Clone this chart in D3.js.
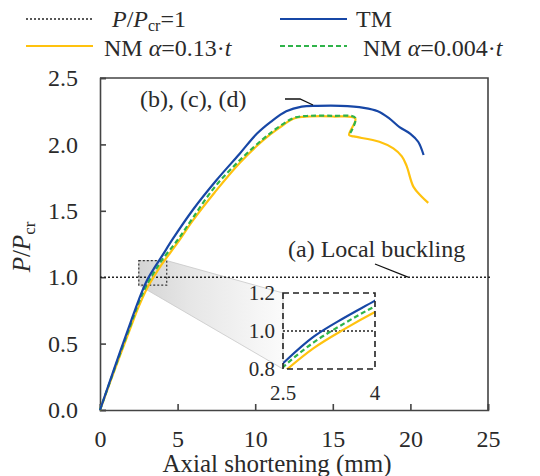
<!DOCTYPE html>
<html>
<head>
<meta charset="utf-8">
<script src="https://cdn.jsdelivr.net/npm/d3@7"></script>
<style>
  body { margin: 0; background: #fff; }
  text { font-family: "Liberation Serif", "Times New Roman", serif; fill: #2a2a2a; }
</style>
</head>
<body>
<svg id="chart" width="540" height="476"></svg>
<script>
var width = 540;
var height = 476;

// axial shortening (mm) / P/Pcr
var tmShort = [0, 1, 2, 2.5, 3.0, 3.5, 4, 4.7, 6, 7.5, 9, 10.1, 11, 12, 13, 14, 15.5, 17, 17.9, 18.6, 19.3, 20, 20.5, 20.85];
var tmLoad = [0, 0.34, 0.67, 0.83, 0.97, 1.07, 1.16, 1.29, 1.51, 1.73, 1.93, 2.08, 2.17, 2.25, 2.285, 2.29, 2.29, 2.275, 2.25, 2.2, 2.13, 2.08, 2.02, 1.92];

var nm13Short = [0, 1, 2, 2.5, 3.0, 3.5, 4, 5, 6, 7.4, 9, 10.5, 11.5, 12.5, 13.5, 15, 16.45, 16.05, 16.35, 18.0, 18.9, 19.45, 19.75, 20.2, 20.7, 21.15];
var nm13Load = [0, 0.32, 0.63, 0.78, 0.91, 1.01, 1.1, 1.26, 1.43, 1.64, 1.86, 2.03, 2.12, 2.195, 2.21, 2.21, 2.195, 2.07, 2.06, 2.02, 1.97, 1.91, 1.84, 1.68, 1.61, 1.56];

var nm004Short = [0, 1, 2, 2.5, 3.0, 3.5, 4, 5, 6, 7.4, 9, 10.5, 11.5, 12.5, 13.5, 15, 16.45, 16.05];
var nm004Load = [0, 0.33, 0.65, 0.81, 0.94, 1.04, 1.13, 1.28, 1.45, 1.68, 1.88, 2.04, 2.13, 2.2, 2.215, 2.215, 2.2, 2.07];

var xTicks = [0, 5, 10, 15, 20, 25];
var yTicks = [0, 0.5, 1, 1.5, 2, 2.5];
var insetXTicks = [2.5, 4];
var insetYTicks = [0.8, 1.0, 1.2];
var zoomBoxX = [2.5, 4.3];
var zoomBoxY = [0.94, 1.125];

var blue = "#1747a6";
var yellow = "#ffc20e";
var green = "#2fb34a";

function toPoints(xs, ys) {
  return xs.map(function (d, i) { return [d, ys[i]]; });
}
var series = [
  { name: "nm13", pts: toPoints(nm13Short, nm13Load), color: yellow, dash: null },
  { name: "nm004", pts: toPoints(nm004Short, nm004Load), color: green, dash: "5,3" },
  { name: "tm", pts: toPoints(tmShort, tmLoad), color: blue, dash: null }
];

var svg = d3.select("#chart");

var x = d3.scaleLinear().domain([0, 25]).range([100, 488]);
var y = d3.scaleLinear().domain([0, 2.5]).range([410, 78]);

// inset scales
var xi = d3.scaleLinear().domain([2.5, 4]).range([283, 375]);
var yi = d3.scaleLinear().domain([0.8, 1.2]).range([369, 293]);

var defs = svg.append("defs");
var grad = defs.append("linearGradient").attr("id", "fade")
  .attr("gradientUnits", "userSpaceOnUse")
  .attr("x1", x(zoomBoxX[0])).attr("x2", xi(2.5)).attr("y1", 0).attr("y2", 0);
grad.append("stop").attr("offset", 0).attr("stop-color", "#d4d4d4");
grad.append("stop").attr("offset", 0.35).attr("stop-color", "#e6e6e6");
grad.append("stop").attr("offset", 1).attr("stop-color", "#fbfbfb");

defs.append("clipPath").attr("id", "insetClip").append("rect")
  .attr("x", xi(2.5)).attr("y", yi(1.2))
  .attr("width", xi(4) - xi(2.5)).attr("height", yi(0.8) - yi(1.2));

// zoom wedge (gray fade from the small box to the inset)
var wedge = [
  [x(zoomBoxX[0]), y(zoomBoxY[1])],
  [x(zoomBoxX[1]), y(zoomBoxY[1])],
  [xi(2.5), yi(1.2)],
  [xi(2.5), yi(0.8)],
  [x(zoomBoxX[0]), y(zoomBoxY[0])]
];
svg.append("path")
  .attr("d", d3.line()(wedge) + "Z")
  .attr("fill", "url(#fade)")
  .attr("stroke", "#c8c8c8")
  .attr("stroke-width", 0.8);

// frame
svg.append("path")
  .attr("d", "M" + x(0) + "," + y(2.5) + "H" + x(25) + "V" + y(0))
  .attr("fill", "none").attr("stroke", "#444").attr("stroke-width", 1.6);

var xAxis = svg.append("g").attr("transform", "translate(0," + y(0) + ")")
  .call(d3.axisBottom(x).tickValues(xTicks).tickSize(-6).tickPadding(20).tickFormat(d3.format("d")));
var yAxis = svg.append("g").attr("transform", "translate(" + x(0) + ",0)")
  .call(d3.axisLeft(y).tickValues(yTicks).tickSize(-6).tickPadding(22).tickFormat(d3.format(".1f")));
[xAxis, yAxis].forEach(function (g) {
  g.select(".domain").attr("stroke", "#444").attr("stroke-width", 1.6);
  g.selectAll(".tick line").attr("stroke", "#444").attr("stroke-width", 1.6);
  g.selectAll(".tick text").attr("font-size", 24).attr("fill", "#2a2a2a")
    .style("font-family", "'Liberation Serif', serif");
});

// P/Pcr = 1 line
svg.append("line")
  .attr("x1", x(0)).attr("x2", 490).attr("y1", y(1)).attr("y2", y(1))
  .attr("stroke", "#222").attr("stroke-width", 1.6).attr("stroke-dasharray", "2,2");

// small zoom box
svg.append("rect")
  .attr("x", x(zoomBoxX[0])).attr("y", y(zoomBoxY[1]))
  .attr("width", x(zoomBoxX[1]) - x(zoomBoxX[0]))
  .attr("height", y(zoomBoxY[0]) - y(zoomBoxY[1]))
  .attr("fill", "none").attr("stroke", "#333").attr("stroke-width", 1.2)
  .attr("stroke-dasharray", "2,2");

var line = d3.line().curve(d3.curveCatmullRom.alpha(0.5))
  .x(function (d) { return x(d[0]); })
  .y(function (d) { return y(d[1]); });

series.forEach(function (s) {
  svg.append("path")
    .attr("d", line(s.pts))
    .attr("fill", "none")
    .attr("stroke", s.color)
    .attr("stroke-width", 2.2)
    .attr("stroke-dasharray", s.dash);
});

// inset
var inset = svg.append("g");
inset.append("line")
  .attr("x1", xi(2.5)).attr("x2", xi(4)).attr("y1", yi(1)).attr("y2", yi(1))
  .attr("stroke", "#222").attr("stroke-width", 1.6).attr("stroke-dasharray", "2,2");
var insetLine = d3.line().curve(d3.curveCatmullRom.alpha(0.5))
  .x(function (d) { return xi(d[0]); })
  .y(function (d) { return yi(d[1]); });
var insetCurves = inset.append("g").attr("clip-path", "url(#insetClip)");
series.forEach(function (s) {
  insetCurves.append("path")
    .attr("d", insetLine(s.pts))
    .attr("fill", "none")
    .attr("stroke", s.color)
    .attr("stroke-width", 2.2)
    .attr("stroke-dasharray", s.dash);
});
inset.append("rect")
  .attr("x", xi(2.5)).attr("y", yi(1.2))
  .attr("width", xi(4) - xi(2.5)).attr("height", yi(0.8) - yi(1.2))
  .attr("fill", "none").attr("stroke", "#222").attr("stroke-width", 1.6)
  .attr("stroke-dasharray", "6,4");
inset.selectAll(".iy").data(insetYTicks).enter().append("text")
  .attr("x", xi(2.5) - 8).attr("y", function (d) { return yi(d); })
  .attr("dy", "0.35em").attr("text-anchor", "end").attr("font-size", 21)
  .text(d3.format(".1f"));
inset.selectAll(".ix").data(insetXTicks).enter().append("text")
  .attr("x", function (d) { return xi(d); }).attr("y", 400)
  .attr("text-anchor", "middle").attr("font-size", 21)
  .text(function (d) { return d; });

// annotations
svg.append("text").attr("x", 288).attr("y", 257).attr("font-size", 24).text("(a) Local buckling");
svg.append("line").attr("x1", 375).attr("y1", 264).attr("x2", 408).attr("y2", y(1))
  .attr("stroke", "#111").attr("stroke-width", 1.3);
svg.append("text").attr("x", 140).attr("y", 107).attr("font-size", 24).text("(b), (c), (d)");
svg.append("polyline").attr("points", "285,99 300,99 313,105")
  .attr("fill", "none").attr("stroke", "#111").attr("stroke-width", 1.3);

// axis titles
svg.append("text").attr("x", 277).attr("y", 472).attr("text-anchor", "middle")
  .attr("font-size", 25).text("Axial shortening (mm)");

var yTitle = svg.append("text").attr("transform", "translate(30,247) rotate(-90)")
  .attr("text-anchor", "middle").attr("font-size", 25);
yTitle.append("tspan").attr("font-style", "italic").text("P");
yTitle.append("tspan").text("/");
yTitle.append("tspan").attr("font-style", "italic").text("P");
yTitle.append("tspan").attr("font-size", 17).attr("dy", 5).text("cr");

// legend
var legend = svg.append("g");
var legendRows = [
  { x: 26, y: 19, color: "#222", dash: "2,2", w: 1.6 },
  { x: 280, y: 19, color: blue, dash: null, w: 2.2 },
  { x: 26, y: 46, color: yellow, dash: null, w: 2.2 },
  { x: 280, y: 46, color: green, dash: "5,3", w: 2.2 }
];
legendRows.forEach(function (r) {
  legend.append("line").attr("x1", r.x).attr("x2", r.x + 67).attr("y1", r.y).attr("y2", r.y)
    .attr("stroke", r.color).attr("stroke-width", r.w).attr("stroke-dasharray", r.dash);
});
var l1 = legend.append("text").attr("x", 112).attr("y", 27).attr("font-size", 24);
l1.append("tspan").attr("font-style", "italic").text("P");
l1.append("tspan").text("/");
l1.append("tspan").attr("font-style", "italic").text("P");
l1.append("tspan").attr("font-size", 16).attr("dy", 4).text("cr");
l1.append("tspan").attr("dy", -4).text("=1");
legend.append("text").attr("x", 356).attr("y", 27).attr("font-size", 24).text("TM");
var l3 = legend.append("text").attr("x", 104).attr("y", 56).attr("font-size", 24);
l3.append("tspan").text("NM ");
l3.append("tspan").attr("font-style", "italic").text("α");
l3.append("tspan").text("=0.13·");
l3.append("tspan").attr("font-style", "italic").text("t");
var l4 = legend.append("text").attr("x", 363).attr("y", 56).attr("font-size", 24);
l4.append("tspan").text("NM ");
l4.append("tspan").attr("font-style", "italic").text("α");
l4.append("tspan").text("=0.004·");
l4.append("tspan").attr("font-style", "italic").text("t");
</script>
</body>
</html>
